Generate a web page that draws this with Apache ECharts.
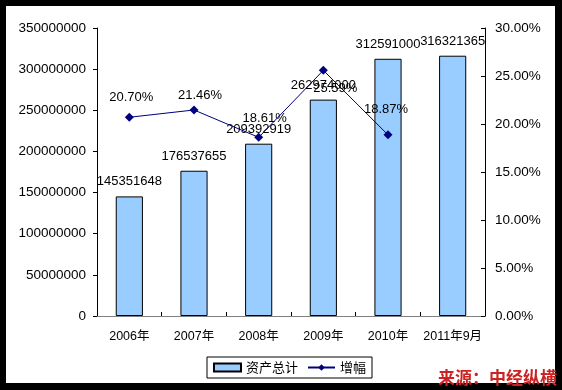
<!DOCTYPE html>
<html>
<head>
<meta charset="utf-8">
<script src="https://cdn.jsdelivr.net/npm/echarts@6/dist/echarts.min.js"></script>
<style>html,body{margin:0;padding:0;background:#000}#c{width:562px;height:390px}</style>
</head>
<body>
<div id="c"></div>
<script>
const categories = ['2006年', '2007年', '2008年', '2009年', '2010年', '2011年9月'];
const totalAssets = [145351648, 176537655, 209392919, 262974000, 312591000, 316321365];
const growth = [20.70, 21.46, 18.61, 25.59, 18.87, null];
const leftTicks = { min: 0, max: 350000000, interval: 50000000 };
const rightTicks = { min: 0, max: 30, interval: 5 };

const FONT = 'Arial, "Liberation Sans", "Noto Sans CJK SC", sans-serif';
const growthLabelOffsets = [[2, -20], [6, -15], [6, -19], [12, 18], [-2, -25], [0, 0]];

const chart = echarts.init(document.getElementById('c'), null, { renderer: 'canvas' });
chart.setOption({
  backgroundColor: '#000',
  animation: false,
  textStyle: { fontFamily: FONT },
  graphic: [
    { type: 'rect', z: -100, shape: { x: 6, y: 6, width: 549, height: 377 }, style: { fill: '#fff' } },
    { type: 'text', z: 100, left: 438, top: 369,
      style: { text: '来源：中经纵横', fill: '#CC2222', font: 'bold 17px "Noto Sans CJK SC", sans-serif' } }
  ],
  grid: { left: 97, right: 77, top: 28, bottom: 74, containLabel: false },
  legend: {
    left: 207, top: 357,
    padding: [4, 6, 4, 6],
    borderColor: '#000', borderWidth: 1,
    itemWidth: 27, itemHeight: 8, itemGap: 9,
    textStyle: { fontSize: 13, color: '#000', fontFamily: '"Noto Sans CJK SC", sans-serif' },
    data: [{ name: '资产总计', icon: 'rect' }, { name: '增幅' }]
  },
  xAxis: [
    {
      type: 'category', data: categories, position: 'bottom',
      axisLine: { lineStyle: { color: '#000', width: 1 } },
      axisTick: { show: true, inside: true, length: 4, interval: 0, lineStyle: { color: '#000' } },
      axisLabel: { color: '#000', fontSize: 12.5, margin: 14, interval: 0, fontFamily: FONT }
    },
    {
      type: 'category', data: categories, position: 'top',
      axisLine: { lineStyle: { color: '#808080', width: 1 } },
      axisTick: { show: false }, axisLabel: { show: false }
    }
  ],
  yAxis: [
    {
      type: 'value', position: 'left', min: leftTicks.min, max: leftTicks.max, interval: leftTicks.interval,
      axisLine: { show: true, lineStyle: { color: '#000' } },
      axisTick: { show: true, length: 4, lineStyle: { color: '#000' } },
      splitLine: { show: false },
      axisLabel: { color: '#000', fontSize: 13.5, margin: 11, formatter: v => String(v) }
    },
    {
      type: 'value', position: 'right', min: rightTicks.min, max: rightTicks.max, interval: rightTicks.interval,
      axisLine: { show: true, lineStyle: { color: '#000' } },
      axisTick: { show: true, inside: true, length: 4, lineStyle: { color: '#000' } },
      splitLine: { show: false },
      axisLabel: { color: '#000', fontSize: 13.5, margin: 10, formatter: v => v.toFixed(2) + '%' }
    }
  ],
  series: [
    {
      name: '资产总计', type: 'bar', yAxisIndex: 0, xAxisIndex: 0,
      data: totalAssets, barWidth: '42%',
      itemStyle: { color: '#99CCFF', borderColor: '#000', borderWidth: 1 },
      label: { show: true, position: 'top', distance: 8, color: '#000', fontSize: 13, fontFamily: FONT }
    },
    {
      name: '增幅', type: 'line', yAxisIndex: 1, xAxisIndex: 0,
      data: growth.map((v, i) => ({
        value: v,
        label: { offset: growthLabelOffsets[i] }
      })),
      symbol: 'diamond', symbolSize: 9,
      lineStyle: { color: '#000080', width: 1 },
      itemStyle: { color: '#000080' },
      label: { show: true, position: 'inside', color: '#000', fontSize: 13, fontFamily: FONT,
        formatter: p => (p.value == null ? '' : Number(p.value).toFixed(2) + '%') },
      z: 5
    }
  ]
});
</script>
</body>
</html>
